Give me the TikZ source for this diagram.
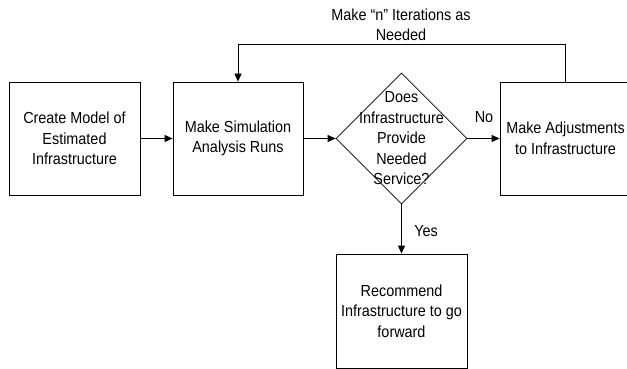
\documentclass[tikz,border=0pt]{standalone}
\usepackage{fontspec}
\setmainfont{Liberation Sans}[FakeStretch=0.9]
\usetikzlibrary{arrows.meta,shapes.geometric}
\begin{document}
\begin{tikzpicture}[x=1pt,y=-1pt,
  txt/.style={align=center,font=\fontsize{16}{20.5}\selectfont,inner sep=0pt},
  box/.style={txt,draw,line width=0.8pt,minimum width=131pt,minimum height=113pt},
  dia/.style={draw,line width=0.8pt,diamond,minimum width=131pt,minimum height=131pt,inner sep=0pt},
  arr/.style={line width=0.8pt,-{Triangle[length=8pt,width=7pt]}},
  ln/.style={line width=0.8pt}]
\useasboundingbox (0,0) rectangle (627,369);
\clip (0,0) rectangle (627,369);
\node[box] (b1) at (74.5,138.5) {Create Model of\\Estimated\\Infrastructure};
\node[box,minimum width=130pt] (b2) at (238,138.5) {Make Simulation\\Analysis Runs};
\node[dia] (d) at (401.5,138.5) {};
\node[txt] (dt) at (401.5,138.5) {Does\\Infrastructure\\Provide\\Needed\\Service?};
\node[box] (b4) at (565.5,138.5) {Make Adjustments\\to Infrastructure};
\node[box,minimum height=114pt] (b5) at (401.5,311) {Recommend\\Infrastructure to go\\forward};
\node[txt] (lp) at (401,25) {Make “n” Iterations as\\Needed};
\node[txt] (no) at (484,117) {No};
\node[txt] (yes) at (426,231) {Yes};
\draw[arr] (b1) -- (b2);
\draw[arr] (b2) -- (d.west);
\draw[arr] (d.east) -- (b4);
\draw[arr] (d.south) -- (b5);
\coordinate (top) at (565.5,44);
\draw[arr] (b4.north) -- (top) -| (b2.north);
\end{tikzpicture}
\end{document}
